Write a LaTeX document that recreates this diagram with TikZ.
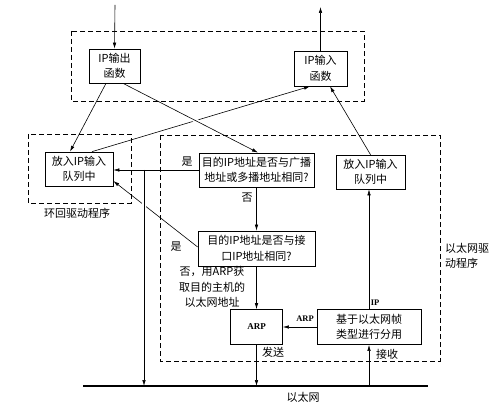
\documentclass[tikz,border=0pt]{standalone}
\usepackage{fontspec}
\setmainfont{Liberation Serif}
\newfontfamily\cjk{Noto Sans CJK SC}
\usetikzlibrary{arrows.meta,calc,positioning}

\begin{document}
\begin{tikzpicture}[x=1pt,y=-1pt,line width=0.6pt,
  box/.style={draw,line width=0.7pt,align=center,inner sep=0pt,font=\cjk\fontsize{11}{15.5}\selectfont},
  lbl/.style={align=center,inner sep=0pt,font=\cjk\fontsize{11}{15.5}\selectfont},
  tag/.style={inner sep=0pt,font=\bfseries\fontsize{8.5}{10}\selectfont},
  arr/.style={-{Latex[length=6pt,width=3.5pt]}},
  drv/.style={draw,dash pattern=on 5pt off 3pt,line width=0.6pt}]
  \useasboundingbox (0,0) rectangle (500,406);

  \node [box,minimum width=51,minimum height=34] (ipout) at (114.5,66) {IP输出\\函数};
  \node [box,minimum width=53,minimum height=35] (ipin) at (320.5,68.5) {IP输入\\函数};
  \node [box,minimum width=68,minimum height=34] (lbq) at (79,169) {放入IP输入\\队列中};
  \node [box,minimum width=115,minimum height=34] (bcast) at (256.5,170) {目的IP地址是否与广播\\地址或多播地址相同?};
  \node [box,minimum width=69,minimum height=34] (ethq) at (370.5,172) {放入IP输入\\队列中};
  \node [box,minimum width=117,minimum height=35] (ifchk) at (256.5,248.5) {目的IP地址是否与接\\口IP地址相同?};
  \node [box,minimum width=52,minimum height=35,font=\bfseries\fontsize{9}{10}\selectfont] (arp) at (256.5,327) {ARP};
  \node [box,minimum width=104,minimum height=35] (demux) at (369,327) {基于以太网帧\\类型进行分用};

  \node [lbl] (yes1) at (187,162) {是};
  \node [lbl] (no1) at (247,198) {否};
  \node [lbl] (yes2) at (176,247) {是};
  \node [lbl] (no2) at (212,287) {否，用ARP获\\取目的主机的\\以太网地址};
  \node [lbl] (send) at (273,352) {发送};
  \node [lbl] (recv) at (387,354) {接收};
  \node [tag] (arptag) at (305,319) {ARP};
  \node [tag] (iptag) at (375,303) {IP};
  \node [lbl] (ethname) at (303,397) {以太网};
  \node [lbl] (lbdrv) at (77,213) {环回驱动程序};
  \node [lbl,align=left] (ethdrv) at (467,256) {以太网驱\\动程序};

  \coordinate (in) at (115,5);
  \coordinate (out) at (320.5,7);
  \coordinate (ethl) at (83,386);
  \coordinate (ethr) at (428,386);
  \coordinate (br) at (144,170);
  \coordinate (ethbr) at (br |- ethl);

  \draw [arr] (in) -- (ipout.north);
  \draw [arr] (ipin.north) -- (out);
  \draw [arr] ([xshift=-8.5]ipout.south) -- ([xshift=-9]lbq.north);
  \draw [arr] ([xshift=13]lbq.north) -- ([xshift=-10.5]ipin.south);
  \draw [white,line width=4pt] ($([xshift=8.5]ipout.south)!0.5!([xshift=1.5]bcast.north)$) -- ($([xshift=8.5]ipout.south)!0.6!([xshift=1.5]bcast.north)$);
  \draw [arr] ([xshift=8.5]ipout.south) -- ([xshift=1.5]bcast.north);
  \draw [arr] (ethq.north) -- ([xshift=9.5]ipin.south);

  \draw [arr] (bcast.west) -- (lbq.east |- bcast.west);
  \draw [arr] ([yshift=1.5]ifchk.west) -- ([yshift=-12]lbq.east);
  \draw [white,line width=4pt] ($(br)!0.13!(ethbr)$) -- ($(br)!0.18!(ethbr)$);
  \draw [arr] (br) -- (ethbr);
  \draw [arr] (bcast.south) -- (ifchk.north);
  \draw [arr] (ifchk.south) -- (arp.north);
  \draw [arr] (arp.south) -- (arp.south |- ethl);
  \draw [arr] (demux.west) -- (arp.east);
  \draw [arr] (demux.south |- ethl) -- (demux.south);
  \draw [arr] (demux.north) -- (demux.north |- ethq.south);

  \draw [line width=1.6pt] (ethl) -- (ethr);

  \draw [drv] (71,31) rectangle (364,101);
  \draw [drv] (28,134) rectangle (131,203);
  \draw [drv] (160,135) rectangle (440,361);
\end{tikzpicture}
\end{document}
